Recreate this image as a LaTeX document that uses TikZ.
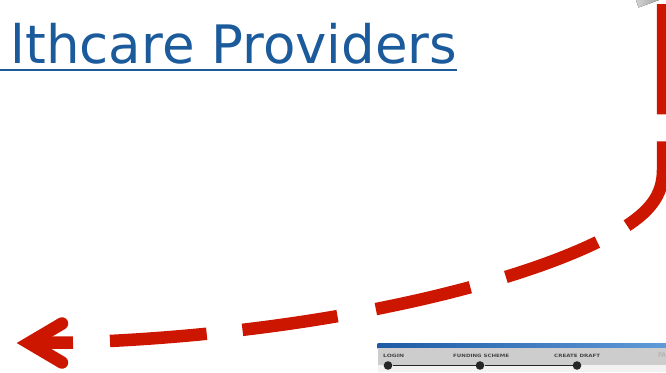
\documentclass[tikz,border=0pt]{standalone}
\usepackage{fontspec}
\setmainfont{DejaVu Sans}
\usetikzlibrary{calc}
\definecolor{arrowred}{RGB}{205,22,0}
\definecolor{titleblue}{RGB}{27,90,155}
\definecolor{blueA}{RGB}{30,90,165}
\definecolor{blueB}{RGB}{95,155,215}
\definecolor{barGray}{RGB}{205,205,205}
\definecolor{barLight}{RGB}{242,242,242}
\definecolor{labelGray}{RGB}{70,70,70}
\definecolor{fadeGray}{RGB}{170,170,170}
\newcommand\stepword[2]{\resizebox{#1}{3.3pt}{\bfseries #2}}
\begin{document}
\begin{tikzpicture}[x=1pt,y=-1pt,
  redline/.style={draw=arrowred, line width=12.5pt},
  stepdot/.style={circle, fill=black!85, inner sep=0pt, minimum size=8.6pt},
  steplabel/.style={anchor=base west, inner sep=0pt, text=labelGray}]
\useasboundingbox (0,0) rectangle (666,372);
\clip (0,0) rectangle (666,372);

% title
\node[anchor=base east, inner sep=0pt, text=titleblue,
      font=\fontsize{53}{60}\selectfont] (title) at (457.5,63) {lthcare Providers};
\coordinate (ulL) at (0,69.8);
\coordinate (ulR) at (457,69.8);
\draw[titleblue, line width=2.4pt] (ulL) -- (ulR);

% gray wedge at top right
\coordinate (w1) at (636,0);
\coordinate (w2) at (659,0);
\coordinate (w3) at (638.5,7.5);
\fill[left color=gray!35, right color=gray!70] (w1) -- (w2) -- (w3) -- cycle;

% red dashed arrow
\coordinate (tail) at (73,342.5);
\coordinate (bend) at (620,230);
\coordinate (corner) at (663,170);
\coordinate (top) at (663,4);
\draw[redline, dash pattern=on 0pt off 37pt on 97pt off 36pt on 96pt off 39pt on 97pt off 37pt on 98pt off 34pt on 98pt off 27pt on 130pt]
  (tail) .. controls (323,334.5) and (534,281) .. (bend)
         .. controls (650,212) and (663,195) .. (corner) -- (top);
\coordinate (tip) at (29,343);
\coordinate (barbA) at (62,323.5);
\coordinate (barbB) at (62,362.5);
\draw[redline] (tail) -- (tip);
\draw[redline, line cap=round, line join=miter] (barbA) -- (tip) -- (barbB);

% progress bar
\fill[left color=blueA, right color=blueB] (377.5,343) rectangle (666,348);
\fill[barGray] (377.5,348) rectangle (666,364.5);
\fill[barLight] (377.5,364.5) rectangle (666,372);
\node[stepdot] (s1) at (388,365.5) {};
\node[stepdot] (s2) at (480,365.5) {};
\node[stepdot] (s3) at (577,365.5) {};
\draw[black!85, line width=1.8pt] (s1) -- (s2) -- (s3);
\node[steplabel] (l1) at (383,357.3) {\stepword{21pt}{LOGIN}};
\node[steplabel] (l2) at (453,357.3) {\stepword{56pt}{FUNDING SCHEME}};
\node[steplabel] (l3) at (554,357.3) {\stepword{46pt}{CREATE DRAFT}};
\node[steplabel, text=fadeGray, font=\fontsize{6.4}{7}\selectfont] (l4) at (658,357.3) {PA};
\end{tikzpicture}
\end{document}
